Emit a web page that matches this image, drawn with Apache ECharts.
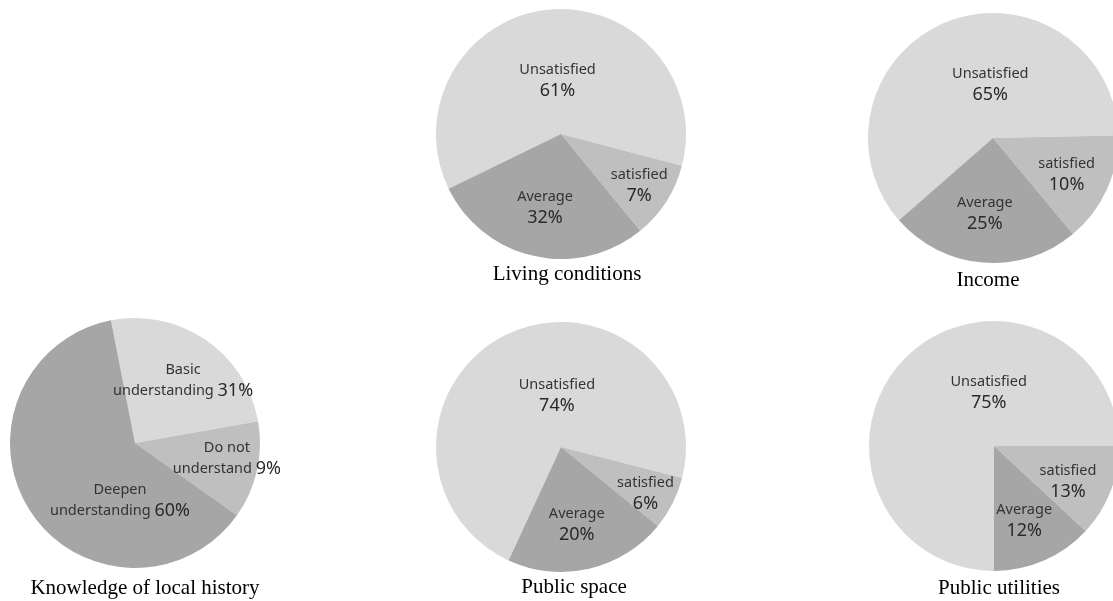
<!DOCTYPE html>
<html>
<head>
<meta charset="utf-8">
<script src="https://cdn.jsdelivr.net/npm/echarts@6/dist/echarts.min.js"></script>
<style>
html,body{margin:0;padding:0;background:#fff;}
#chart{width:1113px;height:601px;}
</style>
</head>
<body>
<div id="chart"></div>
<script>
// Satisfaction categories (clockwise order as drawn)
const categories = ['Unsatisfied', 'satisfied', 'Average'];

// Slice sizes as drawn (share of the circle, %) and printed percentages
const livingShares = [61.3, 10.0, 28.7];
const livingLabels = ['61%', '7%', '32%'];

const incomeShares = [61.1, 14.3, 24.6];
const incomeLabels = ['65%', '10%', '25%'];

const spaceShares = [72.1, 6.9, 21.0];
const spaceLabels = ['74%', '6%', '20%'];

const utilitiesShares = [75.0, 11.9, 13.1];
const utilitiesLabels = ['75%', '13%', '12%'];

const historyCategories = ['Basic\nunderstanding', 'Do not\nunderstand', 'Deepen\nunderstanding'];
const historyShares = [25.3, 12.6, 62.1];
const historyLabels = ['31%', '9%', '60%'];

const chartTitles = ['Living conditions', 'Income', 'Knowledge of local history', 'Public space', 'Public utilities'];

// ---- styling / layout ----
const sliceColors = ['#d9d9d9', '#bfbfbf', '#a6a6a6'];
const R = 125;

const panels = [
  { names: categories, shares: livingShares, labels: livingLabels, center: [561, 134], start: 206, inline: false,
    offsets: [[3, 12], [23, 17], [-2, 10]], title: [567, 273] },
  { names: categories, shares: incomeShares, labels: incomeLabels, center: [993, 138], start: 221.2, inline: false,
    offsets: [[21, 8], [14, 10], [-3, 11]], title: [988, 279] },
  { names: historyCategories, shares: historyShares, labels: historyLabels, center: [135, 443], start: 101.1, inline: true,
    offsets: [[11, -8], [28, 2], [40, 22]], title: [145, 587] },
  { names: categories, shares: spaceShares, labels: spaceLabels, center: [561, 447], start: 245.2, inline: false,
    offsets: [[24, 8], [26, 17], [1, 14]], title: [574, 586] },
  { names: categories, shares: utilitiesShares, labels: utilitiesLabels, center: [994, 446], start: 270, inline: false,
    offsets: [[41, -7], [13, 12], [4, 15]], title: [999, 587] }
];

function makeFormatter(panel) {
  return function (p) {
    const lines = panel.names[p.dataIndex].split('\n').map(s => '{n|' + s + '}');
    const pct = '{p|' + panel.labels[p.dataIndex] + '}';
    if (panel.inline) {
      lines[lines.length - 1] = lines[lines.length - 1] + '{n| }' + pct;
      return lines.join('\n');
    }
    return lines.join('\n') + '\n' + pct;
  };
}

const series = panels.map((panel, si) => ({
  type: 'pie',
  center: panel.center,
  radius: [0, R],
  startAngle: panel.start,
  clockwise: true,
  silent: true,
  animation: false,
  itemStyle: { borderWidth: 0 },
  emphasis: { disabled: true },
  label: {
    show: true,
    position: 'inside',
    formatter: makeFormatter(panel),
    color: '#333333',
    fontFamily: 'Noto Sans',
    rich: {
      n: { fontSize: 14.5, lineHeight: 20, color: '#333333', fontFamily: 'Noto Sans' },
      p: { fontSize: 18, lineHeight: 22, color: '#2a2a2a', fontFamily: 'Noto Sans' }
    }
  },
  labelLine: { show: false },
  labelLayout: function (params) {
    const off = panel.offsets[params.dataIndex];
    return { dx: off[0], dy: off[1] };
  },
  data: panel.shares.map((v, i) => ({
    name: panel.names[i],
    value: v,
    itemStyle: { color: sliceColors[i] }
  }))
}));

const titles = panels.map((panel, i) => ({
  text: chartTitles[i],
  left: panel.title[0],
  top: panel.title[1] - 9,
  padding: 0,
  textAlign: 'center',
  textStyle: { fontFamily: 'Liberation Serif', fontSize: 21, fontWeight: 'normal', color: '#000' }
}));

const chart = echarts.init(document.getElementById('chart'), null, { renderer: 'canvas' });
chart.setOption({
  backgroundColor: '#ffffff',
  animation: false,
  title: titles,
  series: series
});
</script>
</body>
</html>
